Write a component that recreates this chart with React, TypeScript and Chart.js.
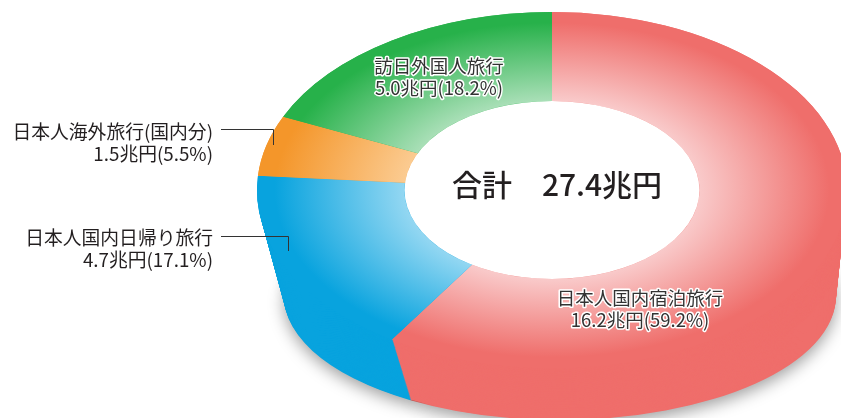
import React, { useEffect, useRef } from 'react';
import { Chart, registerables } from 'chart.js';

Chart.register(...registerables);

// ---- data ----
const categories = ['日本人国内宿泊旅行', '日本人国内日帰り旅行', '日本人海外旅行(国内分)', '訪日外国人旅行'];
const values = [16.2, 4.7, 1.5, 5.0]; // 兆円
const percents = [59.2, 17.1, 5.5, 18.2];
const totalValue = 27.4;

// ---- styles ----
const faceLight = ['#F9CACA', '#93D7F2', '#FBCB91', '#A9DFB7'];
const faceFull = ['#EF6E6B', '#08A3DE', '#F4962A', '#27B14A'];
const sideColors = ['#EF6E6B', '#08A3DE', '#F4962A', '#27B14A'];

const FONT = '"Noto Sans CJK JP", "Noto Sans", sans-serif';

// view of the tilted ring (top face and the lower rim of the extrusion)
const FACE = { cx: 552, cy: 190, rx: 295, ry: 178 };
const BASE = { cx: 560, cy: 296, rx: 276, ry: 124 };
const LAYERS = 80;

type LabelLayout = {
  x: number;
  y: number;
  align: CanvasTextAlign;
  outline: boolean;
  leader?: number[][];
};
const labelLayout: LabelLayout[] = [
  { x: 640, y: 298, align: 'center', outline: true },
  { x: 213, y: 238, align: 'right', outline: false, leader: [[221, 236.5], [288.5, 236.5], [288.5, 251]] },
  { x: 213, y: 132, align: 'right', outline: false, leader: [[221, 129.5], [273.5, 129.5], [273.5, 145]] },
  { x: 439, y: 66, align: 'center', outline: true },
];

function applyView(ctx: CanvasRenderingContext2D, arc: any, v: { cx: number; cy: number; rx: number; ry: number }) {
  const R = arc.outerRadius;
  ctx.translate(v.cx, v.cy);
  ctx.scale(v.rx / R, v.ry / R);
  ctx.translate(-arc.x, -arc.y);
}

const tiltPlugin = {
  id: 'tiltRing',
  beforeDatasetsDraw(chart: any) {
    const ctx: CanvasRenderingContext2D = chart.ctx;
    const arcs = chart.getDatasetMeta(0).data;
    const a0 = arcs[0];
    for (let i = 0; i <= LAYERS; i++) {
      const t = i / LAYERS;
      const v = {
        cx: BASE.cx + (FACE.cx - BASE.cx) * t,
        cy: BASE.cy + (FACE.cy - BASE.cy) * t,
        rx: BASE.rx + (FACE.rx - BASE.rx) * t,
        ry: BASE.ry + (FACE.ry - BASE.ry) * t,
      };
      ctx.save();
      if (i === 0) {
        ctx.shadowColor = 'rgba(0,0,0,0.38)';
        ctx.shadowBlur = 16;
        ctx.shadowOffsetY = 5;
      }
      applyView(ctx, a0, v);
      arcs.forEach((arc: any, k: number) => {
        ctx.beginPath();
        ctx.moveTo(arc.x, arc.y);
        ctx.arc(arc.x, arc.y, arc.outerRadius, arc.startAngle, arc.endAngle);
        ctx.closePath();
        ctx.fillStyle = sideColors[k];
        ctx.fill();
      });
      ctx.restore();
    }
    ctx.save();
    applyView(ctx, a0, FACE);
  },
  afterDatasetsDraw(chart: any) {
    const ctx: CanvasRenderingContext2D = chart.ctx;
    const a0 = chart.getDatasetMeta(0).data[0];
    // white centre
    ctx.beginPath();
    ctx.arc(a0.x, a0.y, a0.innerRadius, 0, Math.PI * 2);
    ctx.fillStyle = '#ffffff';
    ctx.fill();
    ctx.restore();

    // centre total
    ctx.save();
    ctx.font = `500 30px ${FONT}`;
    ctx.fillStyle = '#231F20';
    ctx.textAlign = 'center';
    ctx.textBaseline = 'middle';
    ctx.fillText(`合計　${totalValue.toFixed(1)}兆円`, 557, 185);
    ctx.restore();

    // slice labels
    ctx.save();
    ctx.textBaseline = 'middle';
    ctx.lineJoin = 'round';
    categories.forEach((cat, i) => {
      const L = labelLayout[i];
      const lines = [cat, `${values[i].toFixed(1)}兆円(${percents[i].toFixed(1)}%)`];
      ctx.textAlign = L.align;
      ctx.font = `${L.outline ? 18.5 : 18.8}px ${FONT}`;
      lines.forEach((line, j) => {
        const y = L.y + j * 21.5;
        if (L.outline) {
          ctx.strokeStyle = '#ffffff';
          ctx.lineWidth = 3;
          ctx.strokeText(line, L.x, y);
          ctx.fillStyle = '#333333';
        } else {
          ctx.fillStyle = '#231F20';
        }
        ctx.fillText(line, L.x, y);
      });
      if (L.leader) {
        ctx.beginPath();
        L.leader.forEach((p, j) => (j === 0 ? ctx.moveTo(p[0], p[1]) : ctx.lineTo(p[0], p[1])));
        ctx.strokeStyle = '#333333';
        ctx.lineWidth = 1;
        ctx.stroke();
      }
    });
    ctx.restore();
  },
};

export default function App() {
  const ref = useRef<HTMLCanvasElement | null>(null);
  useEffect(() => {
    if (!ref.current) return;
    const chart = new Chart(ref.current, {
      type: 'doughnut',
      data: {
        labels: categories,
        datasets: [
          {
            data: values,
            borderWidth: 0,
            backgroundColor: (c: any) => {
              const ch = c.chart;
              const area = ch.chartArea;
              if (!area) return faceFull[c.dataIndex];
              const cx = (area.left + area.right) / 2;
              const cy = (area.top + area.bottom) / 2;
              const R = Math.min(area.right - area.left, area.bottom - area.top) / 2;
              const g = ch.ctx.createRadialGradient(cx, cy, R * 0.5, cx, cy, R);
              g.addColorStop(0, faceLight[c.dataIndex]);
              g.addColorStop(0.88, faceFull[c.dataIndex]);
              g.addColorStop(1, faceFull[c.dataIndex]);
              return g;
            },
          },
        ],
      },
      options: {
        responsive: false,
        animation: false,
        cutout: '50%',
        plugins: { legend: { display: false }, tooltip: { enabled: false } },
        events: [],
      },
      plugins: [tiltPlugin],
    });
    return () => chart.destroy();
  }, []);
  return (
    <div style={{ position: 'fixed', left: 0, top: 0, width: 841, height: 418, background: '#fff', overflow: 'hidden' }}>
      <canvas ref={ref} width={841} height={418} style={{ display: 'block' }} />
    </div>
  );
}
